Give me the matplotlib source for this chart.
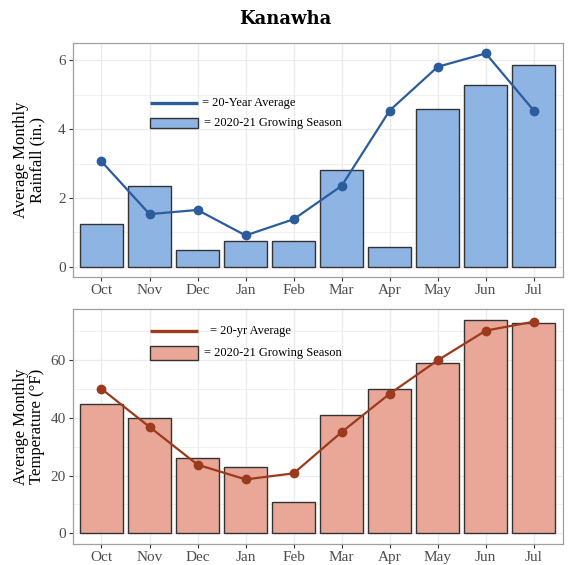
import numpy as np
import matplotlib
matplotlib.use("Agg")
import matplotlib.pyplot as plt
from matplotlib.patches import Rectangle

plt.rcParams["font.family"] = ["Liberation Serif", "DejaVu Serif"]

# ---------------------------
# DATA
# ---------------------------
MONTHS = ["Oct", "Nov", "Dec", "Jan", "Feb", "Mar", "Apr", "May", "Jun", "Jul"]

rain_season = [1.24, 2.35, 0.48, 0.75, 0.75, 2.81, 0.58, 4.58, 5.27, 5.87]
rain_avg = [3.06, 1.53, 1.65, 0.91, 1.38, 2.35, 4.54, 5.81, 6.20, 4.54]

temp_season = [45, 40, 26, 23, 11, 41, 50, 59, 74, 73]
temp_avg = [50.1, 36.9, 23.8, 18.7, 20.8, 35.1, 48.4, 60.0, 70.3, 73.4]

BLUE_FILL = "#8EB4E3"
BLUE_LINE = "#2B5C9E"
RED_FILL = "#E8A797"
RED_LINE = "#9C3A1E"
EDGE = "#333333"
GRID = "#EBEBEB"
TEXT_GRAY = "#4D4D4D"

x = np.arange(len(MONTHS))


def panel(ax, bars, line, fill, lcolor, yticks, minor, ylabel,
          key_line_y, key_box, line_text, text_x):
    ax.bar(x, bars, width=0.9, color=fill, edgecolor=EDGE, linewidth=1.0, zorder=3)
    ax.plot(x, line, color=lcolor, linewidth=1.6, marker="o", markersize=6, zorder=4)

    # hand-drawn key inside the panel
    ax.plot([1, 2], [key_line_y, key_line_y], color=lcolor, linewidth=2.4, zorder=4,
            solid_capstyle="butt")
    ax.add_patch(Rectangle((1, key_box[0]), 1, key_box[1] - key_box[0],
                           facecolor=fill, edgecolor=EDGE, linewidth=1.0, zorder=4))
    ax.text(text_x, key_line_y, line_text, fontsize=9, va="center", ha="left", zorder=5)
    ax.text(2.13, sum(key_box) / 2, "= 2020-21 Growing Season", fontsize=9,
            va="center", ha="left", zorder=5)

    lo, hi = min(min(bars), min(line), 0), max(max(bars), max(line))
    pad = (hi - lo) * 0.05
    ax.set_ylim(lo - pad, hi + pad)
    ax.set_xlim(-0.6, len(MONTHS) - 0.4)
    ax.set_xticks(x)
    ax.set_xticklabels(MONTHS)
    ax.set_yticks(yticks)
    ax.set_yticks(minor, minor=True)
    ax.tick_params(axis="both", which="major", colors="#333333", labelcolor=TEXT_GRAY,
                   labelsize=11, length=3, width=0.8, pad=2)
    ax.tick_params(axis="y", which="minor", length=0)
    ax.grid(True, which="major", color=GRID, linewidth=0.9, zorder=0)
    ax.grid(True, which="minor", axis="y", color=GRID, linewidth=0.5, zorder=0)
    ax.set_axisbelow(True)
    for s in ax.spines.values():
        s.set_color("#A0A0A0")
        s.set_linewidth(0.9)
    ax.set_ylabel(ylabel, fontsize=12, linespacing=1.0)
    ax.yaxis.set_label_coords(-0.056, 0.5)


fig = plt.figure(figsize=(5.7, 5.65), dpi=100)
ax1 = fig.add_axes([0.1275, 0.509, 0.8595, 0.4154])
ax2 = fig.add_axes([0.1275, 0.0372, 0.8595, 0.4154])

panel(ax1, rain_season, rain_avg, BLUE_FILL, BLUE_LINE, [0, 2, 4, 6], [1, 3, 5],
      "Average Monthly\nRainfall (in.)", 4.75, (4.02, 4.32), "= 20-Year Average", 2.1)
panel(ax2, temp_season, temp_avg, RED_FILL, RED_LINE, [0, 20, 40, 60], [10, 30, 50, 70],
      "Average Monthly\nTemperature (°F)", 70.1, (60, 65), "= 20-yr Average", 2.25)

fig.text(0.5, 0.966, "Kanawha", fontsize=13, fontweight="bold", ha="center", va="center",
         family="DejaVu Serif")

fig.savefig("out.png", dpi=100)
plt.close(fig)
